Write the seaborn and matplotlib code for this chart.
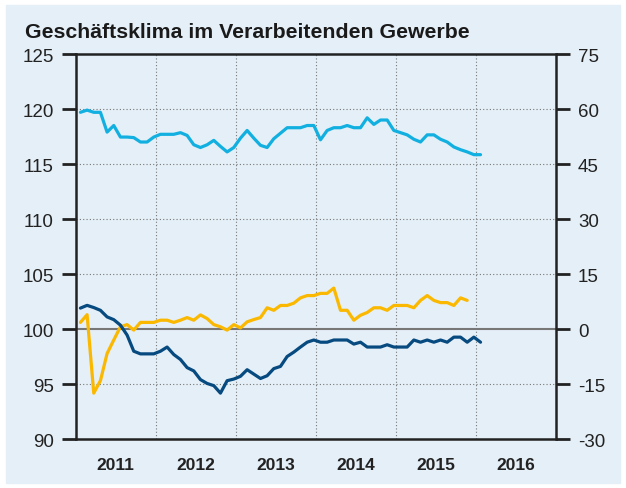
import numpy as np
import pandas as pd
import matplotlib
matplotlib.use("Agg")
import matplotlib.pyplot as plt
import seaborn as sns
from matplotlib.patches import Rectangle

# monthly values, Jan 2011 onwards (left-axis units)
light_blue = [119.7, 119.9, 119.7, 119.7, 117.9, 118.5, 117.45, 117.45, 117.4, 117.0,
              117.0, 117.45, 117.7, 117.7, 117.7, 117.85, 117.6, 116.75, 116.5, 116.75,
              117.15, 116.6, 116.1, 116.5, 117.35, 118.05, 117.35, 116.7, 116.5, 117.3,
              117.8, 118.3, 118.3, 118.3, 118.5, 118.5, 117.2, 118.05, 118.3, 118.3,
              118.5, 118.3, 118.3, 119.2, 118.6, 119.0, 119.0, 118.05, 117.85, 117.65,
              117.25, 117.0, 117.65, 117.65, 117.25, 117.0, 116.55, 116.3, 116.1, 115.85,
              115.85]
dark_blue = [101.9, 102.15, 101.95, 101.7, 101.1, 100.85, 100.35, 99.45, 97.98, 97.74,
             97.74, 97.74, 97.98, 98.36, 97.68, 97.23, 96.49, 96.19, 95.4, 95.05,
             94.85, 94.17, 95.3, 95.45, 95.7, 96.3, 95.9, 95.5, 95.75, 96.4,
             96.6, 97.5, 97.9, 98.36, 98.8, 99.0, 98.8, 98.8, 99.0, 99.0,
             99.0, 98.63, 98.8, 98.36, 98.36, 98.36, 98.57, 98.36, 98.36, 98.36,
             99.0, 98.8, 99.0, 98.8, 99.0, 98.8, 99.26, 99.26, 98.8, 99.26,
             98.8]
orange = [100.6, 101.3, 94.17, 95.3, 97.77, 99.0, 100.2, 100.4, 99.9, 100.6,
          100.6, 100.6, 100.8, 100.8, 100.6, 100.8, 101.04, 100.8, 101.28, 100.95,
          100.4, 100.2, 99.9, 100.4, 100.1, 100.65, 100.86, 101.04, 101.93, 101.7,
          102.14, 102.14, 102.35, 102.83, 103.04, 103.04, 103.24, 103.24, 103.72, 101.7,
          101.7, 100.8, 101.25, 101.5, 101.93, 101.93, 101.7, 102.14, 102.14, 102.14,
          101.93, 102.6, 103.04, 102.6, 102.4, 102.4, 102.14, 102.83, 102.6]

years = [2011, 2012, 2013, 2014, 2015, 2016]
left_ticks = [90, 95, 100, 105, 110, 115, 120, 125]
right_ticks = [-30, -15, 0, 15, 30, 45, 60, 75]


def month_pos(n):
    # decimal year, roughly mid-month
    return 2011 + (np.arange(n) + 0.7) / 12


df = pd.concat([
    pd.DataFrame({"x": month_pos(len(light_blue)), "y": light_blue, "s": "a"}),
    pd.DataFrame({"x": month_pos(len(orange)), "y": orange, "s": "b"}),
    pd.DataFrame({"x": month_pos(len(dark_blue)), "y": dark_blue, "s": "c"}),
])

BG = "#e5eff7"
sns.set_style("white")
plt.rcParams["font.family"] = ["Liberation Sans", "DejaVu Sans"]

fig = plt.figure(figsize=(6.26, 4.89), dpi=100)
fig.patches.append(Rectangle((6 / 626, 1 - 484 / 489), 614 / 626, 478 / 489,
                             transform=fig.transFigure, color=BG, zorder=-10))
ax = fig.add_axes([0.121, 0.1002, 0.767, 0.7873])
ax.set_facecolor("none")

palette = {"a": "#12b0e0", "b": "#fbb800", "c": "#064a80"}
sns.lineplot(data=df, x="x", y="y", hue="s", palette=palette, linewidth=2.3,
             legend=False, ax=ax, zorder=3)

ax.set_xlim(2011, 2017)
ax.set_ylim(90, 125)
ax.set_xlabel("")
ax.set_ylabel("")

# year boundaries as dotted gridlines, labels centred in each year
ax.set_xticks(years[1:])
ax.set_xticklabels([])
ax.set_xticks([y + 0.5 for y in years], minor=True)
ax.set_xticklabels([str(y) for y in years], minor=True, fontsize=12.5,
                   fontweight="bold", color="#222222")
ax.tick_params(axis="x", which="both", length=0, pad=13)
ax.grid(axis="x", which="major", linestyle=(0, (1, 2)), color="#777777", linewidth=0.8)

ax.set_yticks(left_ticks)
ax.set_yticklabels([str(t) for t in left_ticks], fontsize=13.5, color="#222222")
ax.tick_params(axis="y", length=10, width=2, color="#222222", pad=6)
for t in left_ticks[1:-1]:
    if t == 100:
        ax.axhline(t, color="#777777", linewidth=1.5, zorder=2)
    else:
        ax.axhline(t, color="#777777", linestyle=(0, (1, 2)), linewidth=0.8, zorder=1)

for sp in ax.spines.values():
    sp.set_color("#222222")
    sp.set_linewidth(1.8)

ax2 = ax.twinx()
ax2.set_ylim(-30, 75)
ax2.set_yticks(right_ticks)
ax2.set_yticklabels([str(t) for t in right_ticks], fontsize=13.5, color="#222222")
ax2.tick_params(axis="y", length=10, width=2, color="#222222", pad=6)
for sp in ax2.spines.values():
    sp.set_visible(False)

fig.text(25 / 626, 1 - 32 / 489, "Geschäftsklima im Verarbeitenden Gewerbe",
         fontsize=15.3, fontweight="bold", color="#1a1a1a", va="center", ha="left")

fig.savefig("out.png", dpi=100, facecolor="white")
